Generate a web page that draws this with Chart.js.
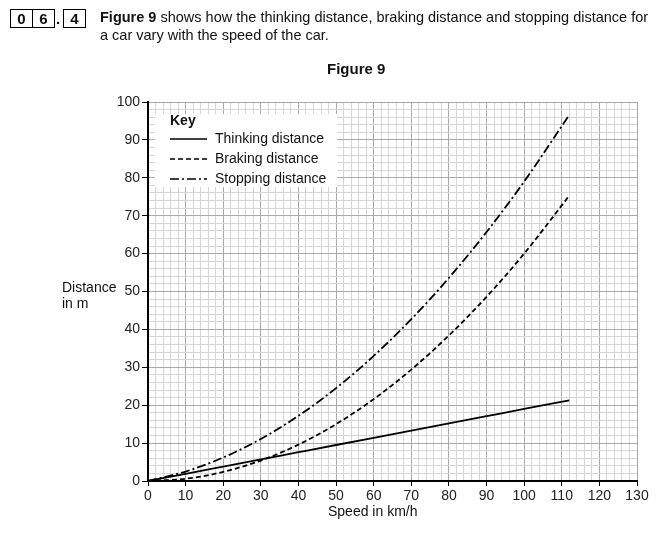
<!DOCTYPE html>
<html>
<head>
<meta charset="utf-8">
<script src="https://cdn.jsdelivr.net/npm/chart.js@4"></script>
<style>
  body { margin: 0; background: #fff; font-family: "Liberation Sans", Arial, sans-serif; color: #111; }
  #wrap { position: relative; width: 663px; height: 534px; }
  canvas { position: absolute; left: 0; top: 0; }
  .t { position: absolute; white-space: nowrap; }
  .box { position: absolute; top: 9px; height: 17px; border: 1px solid #000; font-weight: bold; font-size: 15px; text-align: center; line-height: 17px; }
</style>
</head>
<body>
<div id="wrap">
  <canvas id="chart" width="663" height="534"></canvas>
  <div class="box" style="left:10px;width:21px;">0</div>
  <div class="box" style="left:32px;width:21px;">6</div>
  <div class="t" style="left:56px;top:9px;font-size:15px;font-weight:bold;line-height:19px;">.</div>
  <div class="box" style="left:63px;width:21px;">4</div>
  <div class="t" style="left:100px;top:8px;font-size:14.5px;line-height:18px;"><b>Figure 9</b> shows how the thinking distance, braking distance and stopping distance for<br>a car vary with the speed of the car.</div>
  <div class="t" style="left:327px;top:60px;font-size:15px;font-weight:bold;">Figure 9</div>
  <div class="t" style="left:62px;top:279px;font-size:14px;line-height:16px;">Distance<br>in m</div>
  <div class="t" style="left:328px;top:503px;font-size:14px;">Speed in km/h</div>
</div>
<script>
// speed in km/h
const speeds = [0, 10, 20, 30, 40, 50, 60, 70, 80, 90, 100, 112]
// distances in m
const thinking = [0, 1.9, 3.8, 5.7, 7.6, 9.5, 11.4, 13.3, 15.2, 17.1, 19.0, 21.3]
const braking = [0, 0.6, 2.4, 5.4, 9.6, 15.0, 21.6, 29.4, 38.4, 48.6, 60.0, 75.3]
const stopping = [0, 2.5, 6.2, 11.1, 17.2, 24.5, 33.0, 42.7, 53.6, 65.7, 79.0, 96.6]

const seriesLabels = ['Thinking distance', 'Braking distance', 'Stopping distance']
const seriesDash = [[], [5, 3], [9, 3, 2, 3]]

const FONT = '"Liberation Sans", Arial, sans-serif'

function toPoints(ys) {
    let pts = []
    speeds.forEach((s, i) => pts.push({x: s, y: ys[i]}))
    return pts
}

// the "Key" box drawn inside the plot
const keyBox = {
    id: 'keyBox',
    afterDatasetsDraw(chart) {
        const ctx = chart.ctx
        ctx.save()
        ctx.fillStyle = '#ffffff'
        ctx.fillRect(155, 114, 182, 73)
        ctx.fillStyle = '#111'
        ctx.textBaseline = 'middle'
        ctx.font = 'bold 14px ' + FONT
        ctx.fillText('Key', 170, 121)
        ctx.font = '14px ' + FONT
        chart.data.datasets.forEach((ds, i) => {
            const y = 139 + i * 20
            ctx.strokeStyle = '#000'
            ctx.lineWidth = 1.6
            ctx.setLineDash(ds.borderDash)
            ctx.beginPath()
            ctx.moveTo(170, y)
            ctx.lineTo(207, y)
            ctx.stroke()
            ctx.setLineDash([])
            ctx.fillText(ds.label, 215, y)
        })
        ctx.restore()
    }
}

let datasets = []
const allSeries = [thinking, braking, stopping]
for (let i = 0; i < allSeries.length; i++) {
    datasets.push({
        label: seriesLabels[i],
        data: toPoints(allSeries[i]),
        borderColor: '#000',
        borderWidth: 1.8,
        borderDash: seriesDash[i],
        pointRadius: 0,
        cubicInterpolationMode: 'monotone',
        fill: false
    })
}

function gridColor(c) {
    if (c.tick.value % 10 === 0) return '#a9a9a9'
    return '#d6d6d6'
}
function tickColor(c) {
    if (c.tick.value % 10 === 0) return '#000'
    return 'rgba(0,0,0,0)'
}

new Chart(document.getElementById('chart'), {
    type: 'line',
    data: { datasets: datasets },
    plugins: [keyBox],
    options: {
        responsive: false,
        animation: false,
        layout: { padding: { top: 102, right: 26, left: 0, bottom: 0 } },
        plugins: {
            legend: { display: false },
            tooltip: { enabled: false }
        },
        scales: {
            x: {
                type: 'linear',
                min: 0,
                max: 130,
                afterFit: s => { s.height = 53 },
                ticks: {
                    stepSize: 2,
                    autoSkip: false,
                    maxRotation: 0,
                    padding: 2,
                    color: '#222',
                    font: { family: FONT, size: 14 },
                    callback: v => v % 10 === 0 ? v : ''
                },
                grid: { color: gridColor, tickColor: tickColor, tickLength: 5, lineWidth: 1 },
                border: { color: '#000', width: 2 }
            },
            y: {
                min: 0,
                max: 100,
                afterFit: s => { s.width = 148 },
                ticks: {
                    stepSize: 2,
                    autoSkip: false,
                    padding: 2,
                    color: '#222',
                    font: { family: FONT, size: 14 },
                    callback: v => v % 10 === 0 ? v : ''
                },
                grid: { color: gridColor, tickColor: tickColor, tickLength: 6, lineWidth: 1 },
                border: { color: '#000', width: 2 }
            }
        }
    }
})
</script>
</body>
</html>
